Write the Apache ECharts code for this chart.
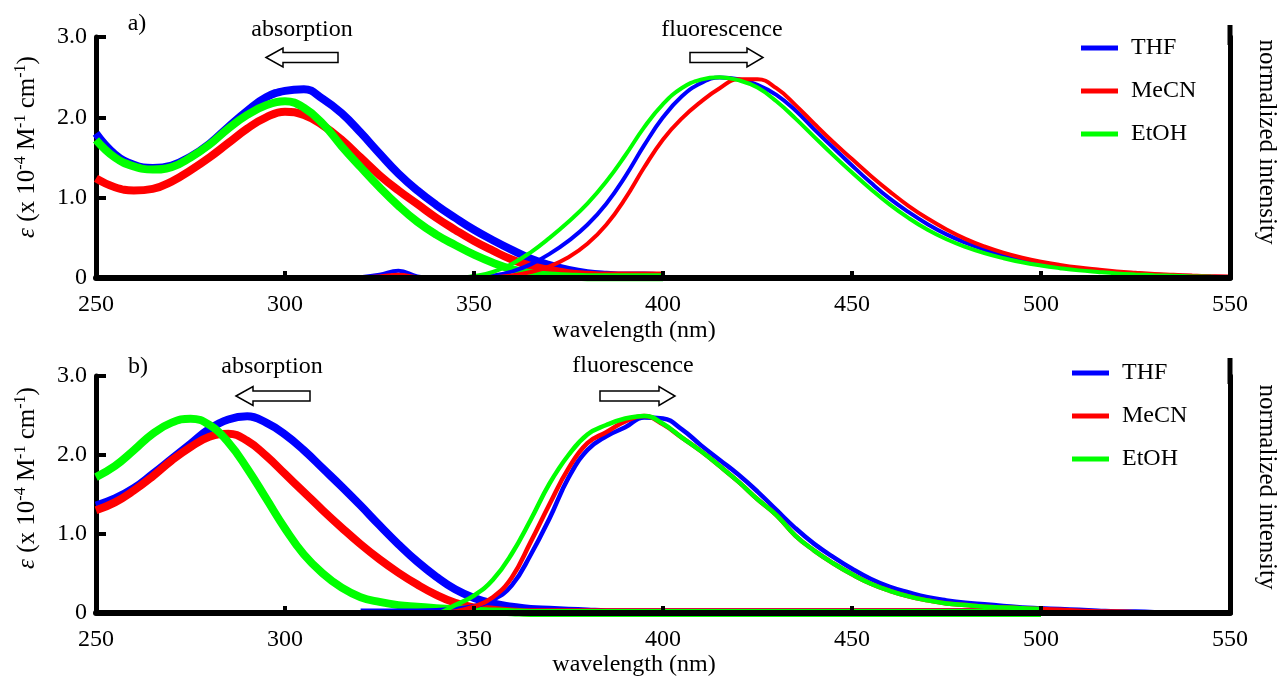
<!DOCTYPE html>
<html><head><meta charset="utf-8">
<script src="https://cdn.jsdelivr.net/npm/echarts@6/dist/echarts.min.js"></script>
<style>html,body{margin:0;padding:0;background:#fff}#c{width:1282px;height:678px}</style>
</head><body><div id="c"></div><script>
// ---------- data ----------
const absWlA = [250,255,260,265,270,275,280,285,290,295,300,305,310,315,320,325,330,335,340,345,350,355,360,365,370,375,380,385,390,395,400];
const thfAbsA  = [1.80,1.54,1.41,1.37,1.40,1.51,1.67,1.88,2.08,2.25,2.33,2.35,2.23,2.05,1.81,1.55,1.30,1.09,0.91,0.75,0.60,0.47,0.35,0.24,0.16,0.10,0.06,0.04,0.03,0.03,0.02];
const mecnAbsA = [1.24,1.13,1.09,1.11,1.20,1.34,1.50,1.68,1.86,2.00,2.07,2.03,1.90,1.72,1.50,1.28,1.09,0.92,0.75,0.60,0.46,0.34,0.23,0.15,0.10,0.06,0.04,0.03,0.03,0.03,0.03];
const etohAbsA = [1.72,1.50,1.39,1.35,1.38,1.50,1.66,1.86,2.03,2.15,2.20,2.12,1.92,1.64,1.38,1.13,0.90,0.70,0.54,0.41,0.29,0.19,0.11,0.06,0.03,0.02,0.01,0.01,0.01,0.01,0.01];

const flWl = [320,325,330,335,340,345,350,355,360,365,370,375,380,385,390,395,400,405,410,415,420,425,430,435,440,445,450,455,460,465,470,475,480,485,490,495,500,505,510,515,520,525,530,535,540,545,550];
const thfFlA  = [0.004,0.016,0.036,0.008,0,0,0.004,0.012,0.032,0.068,0.12,0.185,0.265,0.37,0.505,0.66,0.80,0.905,0.97,0.998,0.99,0.962,0.912,0.835,0.74,0.65,0.56,0.474,0.395,0.328,0.268,0.217,0.176,0.142,0.115,0.092,0.073,0.058,0.046,0.036,0.028,0.022,0.017,0.013,0.01,0.007,0.005];
const mecnFlA = [0.004,0.008,0.016,0.004,0,0,0,0.004,0.012,0.03,0.058,0.103,0.17,0.265,0.395,0.55,0.69,0.795,0.877,0.945,0.99,0.99,0.945,0.862,0.768,0.677,0.592,0.508,0.43,0.358,0.296,0.242,0.195,0.157,0.126,0.101,0.081,0.065,0.052,0.042,0.033,0.026,0.02,0.016,0.012,0.009,0.007];
const etohFlA = [0,0,0,0,0,0,0.01,0.03,0.07,0.128,0.20,0.28,0.37,0.48,0.61,0.75,0.866,0.946,0.988,1.0,0.985,0.948,0.88,0.795,0.703,0.612,0.525,0.442,0.365,0.298,0.24,0.193,0.155,0.124,0.099,0.078,0.062,0.049,0.038,0.03,0.023,0.018,0.014,0.011,0.008,0.006,0.004];

const absWlB = [250,255,260,265,270,275,280,285,290,295,300,305,310,315,320,325,330,335,340,345,350,355,360,365,370,375,380,385,390,395,400,405,410,415,420,425,430,435,440,445,450,455,460,465,470,475,480,485,490,495,500];
const thfAbsB  = [1.36,1.45,1.58,1.76,1.95,2.14,2.33,2.45,2.49,2.41,2.26,2.06,1.83,1.60,1.36,1.11,0.87,0.65,0.46,0.30,0.19,0.12,0.08,0.05,0.04,0.03,0.02,0.01,0.01,0.01,0.01,0.01,0.01,0.01,0.01,0.01,0.01,0.01,0.01,0.01,0.01,0.01,0.01,0.01,0.01,0.01,0.01,0.01,0.01,0.01,0.01];
const mecnAbsB = [1.30,1.40,1.55,1.73,1.93,2.10,2.23,2.27,2.18,1.99,1.76,1.53,1.30,1.08,0.87,0.68,0.51,0.36,0.23,0.13,0.07,0.04,0.02,0.01,0.01,0.01,0.01,0.01,0.01,0.01,0.01,0.01,0.01,0.01,0.01,0.01,0.01,0.01,0.01,0.01,0.01,0.01,0.01,0.01,0.01,0.01,0.01,0.01,0.01,0.01,0.01];
const etohAbsB = [1.72,1.86,2.06,2.27,2.41,2.46,2.38,2.16,1.83,1.45,1.07,0.74,0.50,0.32,0.20,0.14,0.10,0.08,0.06,0.05,0.03,0.02,0.01,0,0,0,0,0,0,0,0,0,0,0,0,0,0,0,0,0,0,0,0,0,0,0,0,0,0,0,0];

const thfFlB  = [0.012,0.012,0.012,0.012,0.014,0.02,0.034,0.066,0.14,0.295,0.48,0.685,0.825,0.895,0.94,0.99,0.985,0.93,0.85,0.775,0.70,0.615,0.522,0.43,0.35,0.284,0.224,0.172,0.132,0.104,0.08,0.064,0.052,0.044,0.036,0.028,0.024,0.02,0.016,0.012,0.008,0.008,0.004,0.004,0.004,0.004,0.004];
const mecnFlB = [0,0,0,0,0,0.008,0.032,0.08,0.18,0.36,0.552,0.732,0.86,0.916,0.97,0.997,0.955,0.888,0.82,0.744,0.664,0.576,0.496,0.392,0.316,0.252,0.196,0.148,0.112,0.084,0.064,0.048,0.04,0.032,0.028,0.024,0.02,0.016,0.012,0.008,0.008,0.004,0.004,0.004,0.004,0.004,0.004];
const etohFlB = [0,0,0,0,0,0.04,0.088,0.168,0.30,0.472,0.656,0.80,0.904,0.952,0.985,0.998,0.958,0.888,0.82,0.744,0.664,0.576,0.496,0.392,0.316,0.252,0.196,0.148,0.112,0.084,0.064,0.048,0.04,0.032,0.028,0.024,0.02,null,null,null,null,null,null,null,null,null,null];

const solvents = ['THF','MeCN','EtOH'];
const xTicks = [250,300,350,400,450,500,550];
const yTicks = [0,1.0,2.0,3.0];

// ---------- chart ----------
const FONT = '"Liberation Serif","Times New Roman",serif';
const COLORS = {THF:'#0000ff', MeCN:'#ff0000', EtOH:'#00ff00'};
function zip(xs, ys){ return xs.map((x,i)=>[x, ys[i]]); }

function xAx(gi){ return {type:'value', gridIndex:gi, min:xTicks[0], max:xTicks[xTicks.length-1], interval:50, z:5,
  axisLine:{show:true, onZero:false, lineStyle:{color:'#000', width:6}},
  axisTick:{show:true, inside:true, length:7, lineStyle:{color:'#000', width:4}},
  axisLabel:{color:'#000', fontSize:24, fontFamily:FONT, margin:15},
  splitLine:{show:false}}; }
function yAxL(gi){ return {type:'value', gridIndex:gi, position:'left', min:yTicks[0], max:yTicks[yTicks.length-1], interval:1,
  axisLine:{show:true, onZero:false, lineStyle:{color:'#000', width:5}},
  axisTick:{show:true, inside:true, length:10, lineStyle:{color:'#000', width:4}},
  axisLabel:{color:'#000', fontSize:24, fontFamily:FONT, margin:9, formatter:v=> v===0 ? '0' : v.toFixed(1)},
  splitLine:{show:false}}; }
function yAxR(gi){ return {type:'value', gridIndex:gi, position:'right', min:0, max:1.2,
  axisLine:{show:true, onZero:false, lineStyle:{color:'#000', width:5}},
  axisTick:{show:false}, axisLabel:{show:false}, splitLine:{show:false}}; }

function ser(name, xi, yi, xs, ys, w){
  return {name, type:'line', xAxisIndex:xi, yAxisIndex:yi, data:zip(xs, ys), smooth:0.45,
    showSymbol:false, symbol:'none', lineStyle:{width:w, color:COLORS[name]}, itemStyle:{color:COLORS[name]}, z:2};
}

const series = [
  ser('THF',0,0,absWlA,thfAbsA,8), ser('MeCN',0,0,absWlA,mecnAbsA,8), ser('EtOH',0,0,absWlA,etohAbsA,8),
  ser('THF',0,1,flWl,thfFlA,4), ser('MeCN',0,1,flWl,mecnFlA,4), ser('EtOH',0,1,flWl,etohFlA,4),
  ser('THF',1,2,absWlB,thfAbsB,8), ser('MeCN',1,2,absWlB,mecnAbsB,8), ser('EtOH',1,2,absWlB,etohAbsB,8),
  ser('THF',1,3,flWl,thfFlB,4.5), ser('MeCN',1,3,flWl,mecnFlB,4.5), ser('EtOH',1,3,flWl,etohFlB,4.5)
];

function legend(left, top){ return {orient:'vertical', left, top, padding:0, itemWidth:37, itemHeight:5, itemGap:19,
  icon:'rect', data:solvents, selectedMode:false,
  textStyle:{color:'#000', fontSize:24, fontFamily:FONT, padding:[0,0,0,8]}}; }

function txt(x, y, s, size, rot){ return {type:'text', x, y, rotation:rot||0, z:10,
  style:{text:s, fill:'#000', fontSize:size||24, fontFamily:FONT, align:'center', verticalAlign:'middle'}}; }
function yTitle(x, y){ return {type:'text', x, y, rotation:Math.PI/2, z:10,
  style:{text:'{i|ε} (x 10{s|-4} M{s|-1} cm{s|-1})', fill:'#000', fontSize:25, fontFamily:FONT, align:'center', verticalAlign:'middle',
    rich:{i:{fontStyle:'italic', fontSize:25, fontFamily:FONT, lineHeight:28}, s:{fontSize:16, fontFamily:FONT, verticalAlign:'top', lineHeight:28}}}}; }
function arrowL(x0, x1, yc){ const hb = x0+17; return {type:'polygon', z:10,
  shape:{points:[[x0,yc],[hb,yc-9.5],[hb,yc-5],[x1,yc-5],[x1,yc+5],[hb,yc+5],[hb,yc+9.5]]},
  style:{fill:'#fff', stroke:'#000', lineWidth:1.5}}; }
function arrowR(x0, x1, yc){ const hb = x1-16; return {type:'polygon', z:10,
  shape:{points:[[x0,yc-5],[hb,yc-5],[hb,yc-9.5],[x1,yc],[hb,yc+9.5],[hb,yc+5],[x0,yc+5]]},
  style:{fill:'#fff', stroke:'#000', lineWidth:1.5}}; }

const option = {
  animation:false,
  backgroundColor:'#fff',
  grid:[{left:96, right:52, top:37, height:241}, {left:96, right:52, top:376, height:237}],
  xAxis:[xAx(0), xAx(1)],
  yAxis:[yAxL(0), yAxR(0), yAxL(1), yAxR(1)],
  legend:[legend(1081, 36), legend(1072, 361)],
  series,
  graphic:[
    {type:'line', shape:{x1:1230, y1:25, x2:1230, y2:45}, style:{stroke:'#000', lineWidth:5}},
    {type:'line', shape:{x1:1230, y1:358, x2:1230, y2:384}, style:{stroke:'#000', lineWidth:5}},
    txt(137, 24, 'a)'), txt(138, 367, 'b)'),
    txt(302, 30, 'absorption'), txt(722, 30, 'fluorescence'),
    txt(272, 367, 'absorption'), txt(633, 366, 'fluorescence'),
    arrowL(266, 338, 57.5), arrowR(690, 763, 57.5),
    arrowL(236, 310, 396), arrowR(600, 675, 396),
    txt(634, 331, 'wavelength (nm)'), txt(634, 665, 'wavelength (nm)'),
    yTitle(27, 147), yTitle(27, 478),
    txt(1267, 142, 'normalized intensity', 25, -Math.PI/2), txt(1267, 487, 'normalized intensity', 25, -Math.PI/2)
  ]
};
const chart = echarts.init(document.getElementById('c'), null, {renderer:'canvas'});
chart.setOption(option);
</script></body></html>
